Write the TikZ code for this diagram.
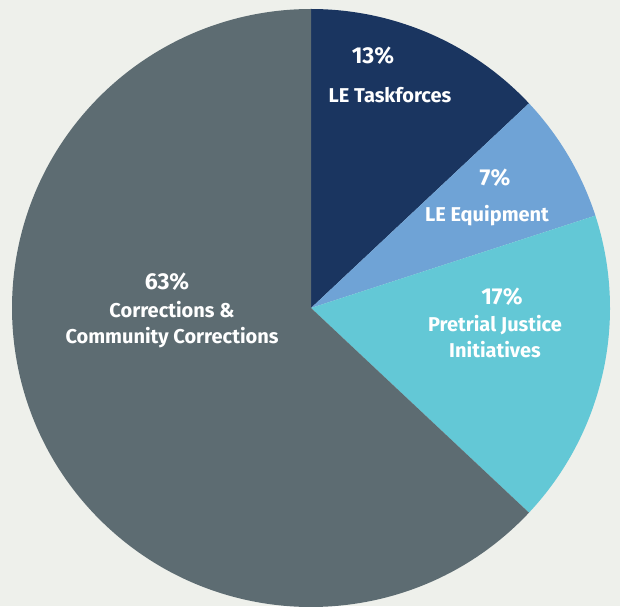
\documentclass[tikz,border=0pt]{standalone}
\usepackage{fontspec}
\setmainfont{Fira Sans}
\usetikzlibrary{positioning}
\definecolor{bgcol}{HTML}{EEF0EB}
\definecolor{taskcol}{HTML}{1A3560}
\definecolor{equipcol}{HTML}{6FA3D6}
\definecolor{pretrialcol}{HTML}{63C8D6}
\definecolor{corrcol}{HTML}{5D6C72}
\tikzset{pct/.style={text=white, font=\bfseries\fontsize{23}{26}\selectfont},
slicelabel/.style={text=white, align=center, font=\bfseries\fontsize{20}{26}\selectfont}}

\begin{document}
\begin{tikzpicture}[x=1pt,y=1pt]
% Canvas
\useasboundingbox (0,0) rectangle (620,606);
\fill[bgcol] (0,0) rectangle (620,606);
% Pie dimensions
\def\R{299}
\coordinate (c) at (311,298);
% Slices
\fill[taskcol] (c) -- ++(90:\R) arc[start angle=90, end angle=43.2, radius=\R] -- cycle;
\fill[equipcol] (c) -- ++(43.2:\R) arc[start angle=43.2, end angle=18, radius=\R] -- cycle;
\fill[pretrialcol] (c) -- ++(18:\R) arc[start angle=18, end angle=-43.2, radius=\R] -- cycle;
\fill[corrcol] (c) -- ++(-43.2:\R) arc[start angle=-43.2, end angle=-270, radius=\R] -- cycle;
% Labels
\node[pct] (taskpct) at (373,550) {13\%};
\node[slicelabel] (taskname) at (390,511) {LE Taskforces};
\node[pct] (equippct) at (495,428) {7\%};
\node[slicelabel] (equipname) at (487,390) {LE Equipment};
\node[pct] (pretrialpct) at (502,309) {17\%};
\node[slicelabel] (pretrialname) at (495,269) {Pretrial Justice\\Initiatives};
\node[pct] (corrpct) at (167,324) {63\%};
\node[slicelabel] (corrname) at (172,281.5) {Corrections \&\\Community Corrections};
\end{tikzpicture}
\end{document}
